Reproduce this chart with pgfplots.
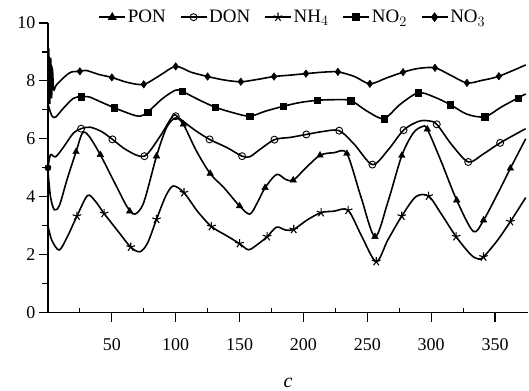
\documentclass[border=0pt]{standalone}
\usepackage{fontspec}
\setmainfont{Liberation Serif}
\usepackage{pgfplots}
\pgfplotsset{compat=1.18}
\begin{document}
\begin{tikzpicture}
\path (-48pt,-63pt) -- (481pt,313pt);
\begin{axis}[
 at={(0pt,0pt)}, anchor=south west,
 scale only axis, width=481pt, height=290pt,
 xmin=0, xmax=376, ymin=0, ymax=10,
 axis x line=bottom, axis y line=left, axis line style={-, line width=1.5pt},
 xtick={50,100,...,350}, ytick={0,2,...,10},
 minor ytick={1,3,...,9},
 extra x ticks={25,75,...,325}, extra x tick labels={},
 extra x tick style={tick align=inside, major tick length=5pt},
 tick align=outside,
 major tick length=9pt, minor tick length=6pt,
 tick style={line width=1.2pt, draw=black},
 tick label style={font=\fontsize{18}{18}\selectfont},
 xticklabel style={yshift=-13pt},
 /pgf/number format/assume math mode=true,
 xlabel={\textit{c}}, xlabel style={font=\fontsize{20}{20}\selectfont, yshift=-12pt},
 legend style={at={(0.51,1.02)}, anchor=center, draw=none, fill=none, legend columns=5,
   font=\fontsize{19}{19}\selectfont, /tikz/every even column/.append style={column sep=12pt}},
 legend image code/.code={\draw[mark repeat=2,mark phase=2] plot coordinates {(0pt,0pt) (13pt,0pt) (26pt,0pt)};},
]
\addlegendimage{black, line width=1.4pt, mark=triangle*, mark size=3.8pt}
\addlegendentry{PON}
\addlegendimage{black, line width=1.4pt, mark=o, mark size=3.5pt, mark options={fill=white, line width=0.9pt}}
\addlegendentry{DON}
\addlegendimage{black, line width=1.4pt, mark=star, mark size=4.5pt, mark options={line width=1.1pt}}
\addlegendentry{NH$_4$}
\addlegendimage{black, line width=1.4pt, mark=square*, mark size=3.2pt}
\addlegendentry{NO$_2$}
\addlegendimage{black, line width=1.4pt, mark=diamond*, mark size=3.8pt}
\addlegendentry{NO$_3$}

% NO3 line
\addplot[black, line width=1.6pt, smooth, no marks, forget plot] coordinates {
(0,8.0)(0.7,9.0)(1.4,7.2)(2.1,8.8)(2.8,7.4)(3.5,8.4)(4.5,7.7)(6.5,7.85)(12,8.1)(18,8.3)(25,8.33)(30,8.36)(40,8.22)(50,8.12)(62,7.95)(75,7.88)(88,8.2)(100,8.5)(112,8.3)(125,8.15)(138,8.03)(151,7.97)(164,8.05)(177,8.15)(190,8.2)(202,8.25)(215,8.3)(227,8.31)(240,8.15)(252,7.9)(265,8.1)(278,8.3)(290,8.43)(303,8.45)(315,8.2)(328,7.93)(340,8.02)(353,8.16)(374,8.55)};
\addplot[black, only marks, mark=diamond*, mark size=3.8pt, forget plot] coordinates {
(25,8.33)(50,8.12)(75,7.88)(100,8.5)(125,8.15)(151,7.97)(177,8.15)(202,8.25)(227,8.31)(252,7.9)(278,8.3)(303,8.45)(328,7.93)(353,8.16)};

% NO2 line
\addplot[black, line width=1.6pt, smooth, no marks, forget plot] coordinates {
(0,7.2)(3,6.8)(6,6.75)(12,7.05)(20,7.4)(26,7.45)(32,7.45)(40,7.3)(52,7.07)(65,6.85)(72,6.78)(78,6.92)(90,7.4)(100,7.68)(105,7.64)(118,7.35)(131,7.09)(145,6.9)(158,6.78)(170,6.95)(184,7.12)(197,7.25)(211,7.33)(224,7.35)(237,7.32)(250,6.95)(263,6.7)(276,7.2)(290,7.59)(302,7.45)(315,7.18)(328,6.85)(342,6.76)(355,7.1)(368,7.41)(374,7.55)};
\addplot[black, only marks, mark=square*, mark size=3.2pt, forget plot] coordinates {
(26,7.45)(52,7.07)(78,6.92)(105,7.64)(131,7.09)(158,6.78)(184,7.12)(211,7.33)(237,7.32)(263,6.7)(290,7.59)(315,7.18)(342,6.76)(368,7.41)};

% DON line
\addplot[black, line width=1.6pt, smooth, no marks, forget plot] coordinates {
(0,5.0)(2,5.45)(6,5.38)(12,5.7)(20,6.2)(26,6.35)(33,6.4)(42,6.25)(50.5,5.98)(62,5.6)(75.5,5.4)(88,6.1)(98,6.8)(103,6.7)(115,6.3)(126.5,5.98)(140,5.7)(152,5.4)(158,5.38)(165,5.6)(177.3,5.97)(190,6.05)(202.3,6.15)(215,6.25)(228,6.28)(240,5.8)(254,5.11)(266,5.6)(278.4,6.3)(290,6.6)(298,6.62)(304.4,6.5)(316,5.8)(329,5.2)(340,5.45)(354,5.86)(374,6.35)};
\addplot[black, only marks, mark=o, mark size=3.5pt, mark options={fill=white, line width=0.9pt}, forget plot] coordinates {
(26,6.35)(50.5,5.98)(75.5,5.4)(100,6.78)(126.5,5.98)(152,5.4)(177.3,5.97)(202.3,6.15)(228,6.28)(254,5.11)(278.4,6.3)(304.4,6.5)(329,5.2)(354,5.86)};
\addplot[black, only marks, mark=*, mark size=3.2pt, forget plot] coordinates {(0,5.0)};

% PON line
\addplot[black, line width=1.6pt, smooth, no marks, forget plot] coordinates {
(0,4.9)(2,4.0)(5,3.55)(9,3.7)(15,4.6)(22,5.55)(27,6.2)(32,6.1)(41,5.45)(52,4.5)(62,3.65)(68,3.4)(75,3.8)(85,5.4)(93,6.4)(100,6.72)(106,6.5)(116,5.6)(127,4.8)(138,4.3)(150,3.68)(158,3.4)(164,3.8)(170,4.31)(179,4.77)(186,4.6)(192,4.57)(202,5.0)(213,5.43)(224,5.52)(234,5.49)(245,4.0)(256,2.62)(266,3.8)(277,5.42)(286,6.2)(293,6.42)(297,6.33)(308,5.2)(320,3.88)(333,2.8)(341,3.19)(352,4.1)(362,4.98)(374,6.0)};
\addplot[black, only marks, mark=triangle*, mark size=3.8pt, forget plot] coordinates {
(22,5.55)(41,5.45)(64,3.5)(85,5.4)(106,6.5)(127,4.8)(150,3.68)(170,4.31)(192,4.57)(213,5.43)(234,5.49)(256,2.62)(277,5.42)(297,6.33)(320,3.88)(341,3.19)(362,4.98)};

% NH4 line
\addplot[black, line width=1.6pt, smooth, no marks, forget plot] coordinates {
(0,3.0)(3,2.5)(8.8,2.16)(15,2.6)(22.7,3.33)(31,4.04)(37,3.85)(44,3.42)(55,2.8)(64.8,2.26)(72,2.1)(78,2.4)(85,3.22)(92,4.0)(98,4.37)(106.5,4.14)(117,3.5)(128,2.97)(140,2.65)(150,2.38)(157,2.17)(164,2.35)(171.6,2.62)(179,2.95)(186,2.85)(192.4,2.87)(203,3.2)(213.8,3.45)(224,3.5)(235,3.53)(246,2.6)(257,1.76)(266,2.5)(277,3.33)(288,4.0)(298,4.02)(308,3.4)(319.5,2.62)(331,2.0)(337,1.85)(341,1.92)(352,2.5)(362,3.14)(374,3.97)};
\addplot[black, only marks, mark=star, mark size=4.5pt, mark options={line width=1.1pt}, forget plot] coordinates {
(22.7,3.33)(44,3.42)(64.8,2.26)(85,3.22)(106.5,4.14)(128,2.97)(150,2.38)(171.6,2.62)(192.4,2.87)(213.8,3.45)(235,3.53)(257,1.76)(277,3.33)(298,4.02)(319.5,2.62)(341,1.92)(362,3.14)};
\end{axis}
\end{tikzpicture}
\end{document}
